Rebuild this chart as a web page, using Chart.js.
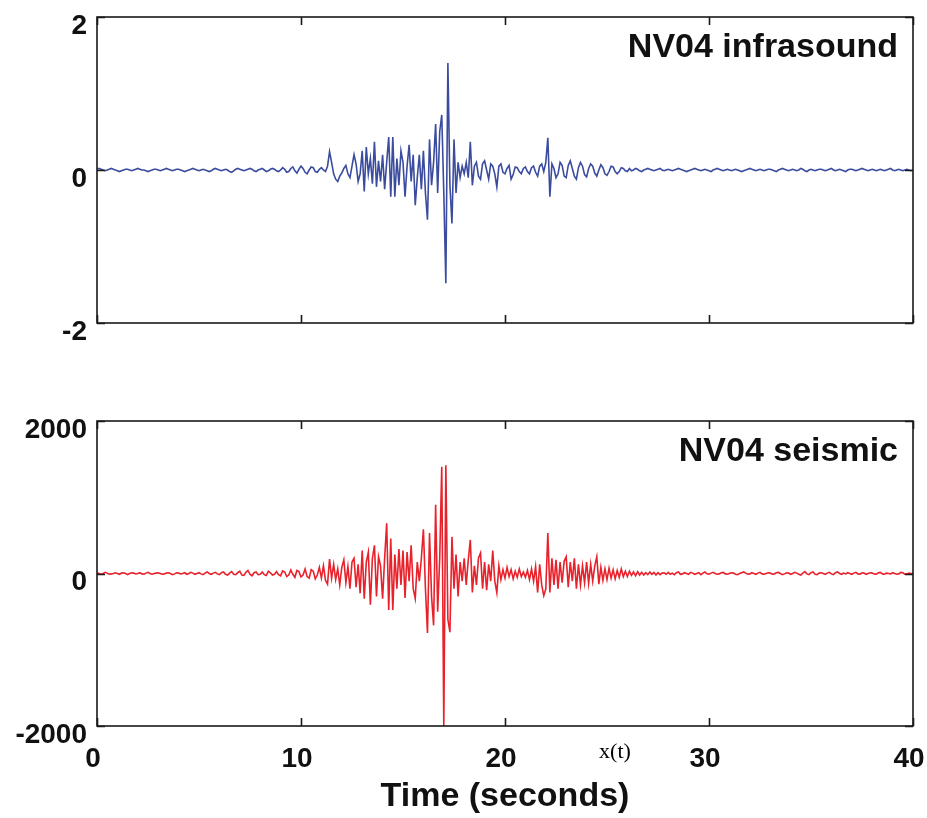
<!DOCTYPE html>
<html>
<head>
<meta charset="utf-8">
<script src="https://cdn.jsdelivr.net/npm/chart.js@4/dist/chart.umd.min.js"></script>
<style>
  html, body { margin: 0; padding: 0; background: #ffffff; }
  #wrap { position: relative; width: 927px; height: 818px; overflow: hidden; }
  canvas { position: absolute; left: 0; }
  #c1 { top: 0; }
  #c2 { top: 400px; }
</style>
</head>
<body>
<div id="wrap">
  <canvas id="c1" width="927" height="400"></canvas>
  <canvas id="c2" width="927" height="418"></canvas>
</div>
<script>
// ---- data (sample spacing 0.1 s, 0 .. 40 s) ----
const sampleStep = 0.1;
const xTickValues = [0, 10, 20, 30, 40];
const infraTickValues = [-2, 0, 2];
const seismicTickValues = [-2000, 0, 2000];
const panelTitles = ['NV04 infrasound', 'NV04 seismic'];
const xAxisTitle = 'Time (seconds)';
const signalLabel = 'x(t)';

const infrasound = [
  0.01,0.02,0.01,0.00,-0.01,0.00,0.01,0.02,0.01,0.00,
  -0.01,-0.02,-0.01,0.00,0.01,0.01,0.00,-0.01,0.00,0.01,
  0.02,0.01,0.00,0.00,-0.01,-0.02,-0.01,0.00,0.01,0.01,
  0.00,-0.01,0.00,0.01,0.02,0.01,0.00,-0.01,0.00,0.01,
  0.01,0.00,-0.01,-0.02,-0.01,0.00,0.01,0.02,0.01,0.00,
  -0.01,0.00,0.01,0.00,-0.01,-0.02,-0.01,0.01,0.02,0.01,
  0.00,-0.01,0.00,0.01,0.00,-0.02,-0.03,-0.01,0.01,0.02,
  0.01,0.00,-0.01,0.00,0.01,0.02,0.01,-0.01,-0.02,0.00,
  0.01,0.02,0.00,-0.02,-0.01,0.01,0.02,0.01,-0.01,-0.02,
  0.00,0.03,0.01,-0.03,-0.02,0.02,0.04,-0.01,-0.04,0.01,
  0.05,0.02,-0.03,-0.05,0.00,0.04,0.03,-0.02,-0.03,0.01,
  0.03,0.00,-0.02,0.05,0.24,0.10,-0.05,-0.12,-0.15,-0.08,
  -0.04,0.02,0.06,-0.05,-0.10,0.05,0.20,0.08,-0.15,-0.05,
  0.25,-0.28,0.30,-0.05,0.15,-0.18,0.37,-0.22,0.12,-0.15,
  0.20,-0.25,0.10,0.43,-0.35,0.43,-0.35,0.15,-0.20,0.25,
  0.10,-0.35,0.05,0.33,-0.15,0.20,-0.46,-0.10,0.20,-0.25,
  0.25,-0.30,-0.65,0.40,-0.20,0.10,0.60,-0.30,0.50,0.72,
  -0.30,-1.48,1.40,-0.20,-0.70,0.40,-0.30,0.10,-0.10,0.05,
  -0.05,0.10,-0.10,0.37,-0.20,0.05,0.10,-0.08,-0.12,0.08,
  0.12,0.00,-0.12,0.08,0.05,-0.05,-0.22,0.05,0.08,-0.03,
  -0.05,0.02,0.06,-0.12,-0.06,0.04,0.03,-0.02,-0.05,0.02,
  0.04,-0.02,-0.05,0.03,0.05,-0.03,-0.08,0.05,0.08,-0.02,
  0.10,0.42,-0.35,0.08,0.02,-0.10,-0.05,0.10,0.06,-0.08,
  -0.10,0.06,0.12,0.02,-0.08,-0.12,0.03,0.10,0.05,-0.06,
  -0.09,0.02,0.08,0.05,-0.04,-0.08,0.00,0.07,0.03,-0.05,
  -0.07,-0.02,0.05,0.04,-0.02,-0.05,-0.02,0.03,0.02,-0.01,
  -0.02,0.02,-0.01,0.00,0.02,0.01,-0.01,-0.02,0.00,0.01,
  0.02,0.01,0.00,-0.01,0.00,0.01,0.02,0.00,-0.01,0.00,
  0.01,0.00,-0.01,0.00,0.01,0.02,0.01,0.00,-0.01,-0.02,
  -0.01,0.00,0.01,0.02,0.01,0.00,-0.01,0.00,0.01,0.00,
  -0.01,-0.02,0.00,0.01,0.02,0.01,0.00,-0.01,0.00,0.01,
  0.00,-0.01,0.00,0.01,0.00,-0.01,-0.02,-0.01,0.00,0.01,
  0.02,0.01,0.00,-0.01,0.00,0.01,0.00,-0.01,0.00,0.01,
  0.01,0.00,-0.01,-0.02,0.00,0.01,0.02,0.01,0.00,-0.01,
  0.00,0.01,0.00,-0.01,0.00,0.02,0.01,-0.01,-0.02,0.00,
  0.01,0.00,-0.01,0.00,0.01,0.01,0.00,-0.01,0.00,0.01,
  0.02,0.00,-0.01,0.00,0.01,0.00,-0.01,-0.02,0.00,0.01,
  0.01,0.00,-0.01,0.00,0.01,0.02,0.01,0.00,-0.01,0.00,
  0.01,0.00,-0.01,0.00,0.01,0.00,-0.01,0.00,0.01,0.02,
  0.00,-0.01,0.00,0.01,0.00,-0.01,0.00,0.01,0.00,-0.01,
  0.00
];

const seismic = [
  10,0,-10,0,15,5,-10,-5,0,10,
  0,-10,5,10,0,-15,0,10,5,-5,
  0,10,-5,-10,5,15,0,-10,0,5,
  10,0,-10,-5,5,10,0,-15,-5,10,
  5,-5,0,10,-10,0,15,5,-10,0,
  10,-5,-15,5,20,0,-10,5,15,-5,
  -15,10,20,-10,-20,5,25,-10,-15,10,
  30,-20,-25,15,40,-10,-30,10,20,-15,
  -10,20,-15,-25,30,10,-20,-10,25,-15,
  -30,35,20,-40,-20,45,-10,-50,40,25,
  -45,-20,60,-40,-60,50,30,-70,-20,80,
  -60,100,-90,-140,190,-60,120,-80,60,-150,
  80,180,-120,90,-200,150,200,-180,120,-260,
  300,-330,150,280,-410,200,370,-300,220,100,
  -330,200,660,-480,460,-480,250,-200,320,-150,
  300,-320,280,-100,370,-200,-330,150,-100,200,
  580,-200,-780,530,-300,-680,900,-500,200,1400,
  -2000,1420,-600,-770,480,-200,250,-300,150,-100,
  200,-150,180,440,-250,100,-150,200,270,-200,
  150,-220,120,-100,300,-100,-250,100,-80,50,
  -60,80,-40,50,-70,30,-50,60,-40,20,
  -50,40,-80,60,-100,90,-250,120,-150,-290,
  -200,530,-250,200,-150,180,-200,150,-120,160,
  220,-180,150,-100,200,-200,120,-150,100,-120,
  150,-130,120,-100,100,220,-140,80,-90,60,
  -80,70,-60,50,-70,40,-50,60,-40,30,
  -40,30,-25,20,-30,25,-20,15,-20,10,
  -15,20,-10,15,-20,10,-15,5,10,-10,
  15,-10,5,-15,10,20,-10,-5,10,0,
  -10,15,5,-10,0,10,-15,5,20,-5,
  -10,5,15,0,-10,-5,10,15,-5,-10,
  0,10,5,-10,-15,0,10,20,5,-10,
  -5,10,0,-10,5,15,-5,-10,0,10,
  5,-10,-5,10,15,0,-15,-5,10,5,
  -10,0,15,5,-10,-20,5,25,-5,-15,
  10,20,-10,-15,5,10,0,-10,5,15,
  -5,-15,10,20,0,-10,5,-5,10,0,
  -10,5,15,-5,-10,10,5,-10,0,10,
  5,-5,-10,10,15,-5,-10,5,0,-5,
  10,0,-10,-5,15,10,-10,-5,5,0,
  0
];

// sample times (x grid) from the sample spacing
const timeLabels = infrasound.map((_, i) => Math.round(i * sampleStep * 10) / 10);

// ---- styling ----
const FONT = "'Liberation Sans', Arial, Helvetica, sans-serif";
const TICK_FONT = { family: FONT, size: 28, weight: 'bold' };
const TEXT_COLOR = '#111111';

const framePlugin = {
  id: 'frameBox',
  afterDatasetsDraw(chart, args, opts) {
    const { ctx, chartArea: a } = chart;
    const xs = chart.scales.x, ys = chart.scales.y;
    ctx.save();
    ctx.strokeStyle = '#1a1a1a';
    ctx.lineWidth = 1.6;
    ctx.strokeRect(a.left, a.top, a.right - a.left, a.bottom - a.top);
    const L = 8;
    ctx.beginPath();
    xs.ticks.forEach(t => {
      const px = Math.round(xs.getPixelForValue(t.value)) + 0.5;
      ctx.moveTo(px, a.bottom); ctx.lineTo(px, a.bottom - L);
      ctx.moveTo(px, a.top); ctx.lineTo(px, a.top + L);
    });
    ys.ticks.forEach(t => {
      const py = Math.round(ys.getPixelForValue(t.value)) + 0.5;
      ctx.moveTo(a.left, py); ctx.lineTo(a.left + L, py);
      ctx.moveTo(a.right, py); ctx.lineTo(a.right - L, py);
    });
    ctx.stroke();
    if (opts.title) {
      ctx.fillStyle = TEXT_COLOR;
      ctx.font = "bold 34px " + FONT;
      ctx.textAlign = 'right';
      ctx.textBaseline = 'middle';
      ctx.fillText(opts.title, a.right - 15, a.top + 31);
    }
    if (opts.note) {
      ctx.fillStyle = '#000000';
      ctx.font = "22px 'Liberation Serif', 'Times New Roman', serif";
      ctx.textAlign = 'center';
      ctx.textBaseline = 'middle';
      ctx.fillText(opts.note, opts.noteX, a.bottom + opts.noteDy);
    }
    ctx.restore();
  }
};

function setTicks(values) {
  return scale => { scale.ticks = values.map(v => ({ value: v })); };
}

function buildChart(canvasId, values, color, yMin, yMax, yTicks, isBottom, title) {
  const xScale = {
    type: 'linear', min: 0, max: 40,
    afterBuildTicks: setTicks(xTickValues),
    grid: { display: false, drawTicks: false },
    border: { display: false },
    ticks: {
      display: isBottom, font: TICK_FONT, color: TEXT_COLOR,
      padding: 16, labelOffset: -4, maxRotation: 0, autoSkip: false,
      callback: v => String(v)
    },
    title: {
      display: isBottom, text: xAxisTitle, color: TEXT_COLOR,
      font: { family: FONT, size: 34, weight: 'bold' },
      padding: { top: 0, bottom: 1 }
    },
    afterFit: s => {
      s.height = isBottom ? 92 : 77;
      s.paddingLeft = 0; s.paddingRight = 0;
    }
  };
  const yScale = {
    type: 'linear', min: yMin, max: yMax,
    afterBuildTicks: setTicks(yTicks),
    grid: { display: false, drawTicks: false },
    border: { display: false },
    ticks: {
      font: TICK_FONT, color: TEXT_COLOR, padding: 10, labelOffset: 9,
      autoSkip: false, callback: v => String(v)
    },
    afterFit: s => {
      s.width = 97;
      s.paddingTop = 0; s.paddingBottom = 0;
    }
  };
  return new Chart(document.getElementById(canvasId), {
    type: 'line',
    data: {
      labels: timeLabels,
      datasets: [{
        label: title,
        data: values,
        borderColor: color,
        borderWidth: 1.6,
        pointRadius: 0,
        tension: 0,
        fill: false
      }]
    },
    options: {
      responsive: false,
      animation: false,
      events: [],
      layout: { padding: { left: 0, right: 14, top: isBottom ? 21 : 17, bottom: 0 } },
      scales: { x: xScale, y: yScale },
      plugins: {
        legend: { display: false },
        tooltip: { enabled: false },
        frameBox: isBottom
          ? { title: title, note: signalLabel, noteX: 615, noteDy: 26 }
          : { title: title }
      }
    },
    plugins: [framePlugin]
  });
}

buildChart('c1', infrasound, '#3b4c9e', -2, 2, infraTickValues, false, panelTitles[0]);
buildChart('c2', seismic, '#e8212b', -2000, 2000, seismicTickValues, true, panelTitles[1]);
</script>
</body>
</html>
